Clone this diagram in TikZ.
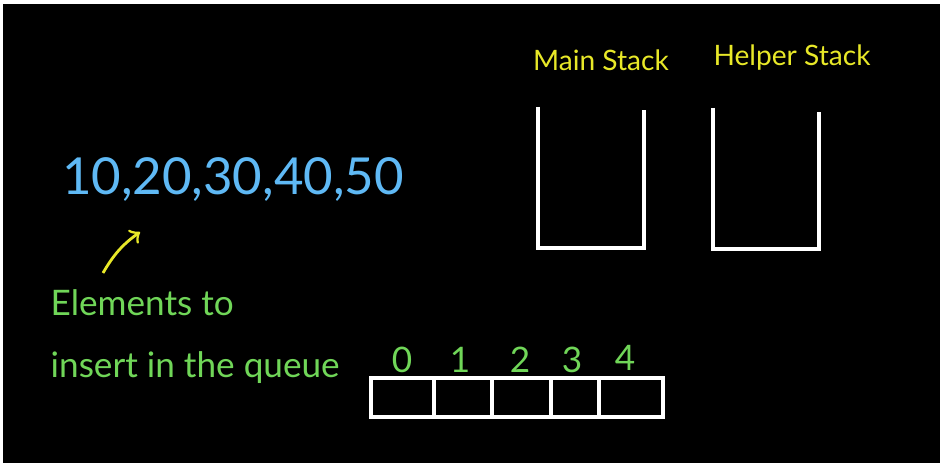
\documentclass[tikz,border=0pt]{standalone}
\usepackage{fontspec}
\setmainfont{Lato}
\usepackage{tikz}
\usetikzlibrary{arrows,calc,positioning}
\definecolor{qu_blue}{RGB}{95, 185, 245}
\definecolor{qu_green}{RGB}{112, 214, 88}
\definecolor{qu_yellow}{RGB}{232, 232, 40}
\tikzstyle{cell}=[rectangle,draw=white,line width=1pt,inner sep=0pt,
  minimum height=0.39cm]
\tikzstyle{idx}=[text=qu_green,font=\fontsize{10}{12}\selectfont,inner sep=0pt]
\tikzstyle{ttl}=[text=qu_yellow,font=\fontsize{8}{10}\selectfont,inner sep=0pt]
\tikzstyle{note}=[text=qu_green,font=\fontsize{10}{12}\selectfont,inner sep=0pt]
\tikzstyle{wall}=[draw=white,line width=1pt]

\begin{document}
\begin{tikzpicture}
        \useasboundingbox (0,0) rectangle (9.40,4.63);
        \fill[white] (0,0) rectangle (9.40,4.63);
        \fill[black] (0.03,0) rectangle (9.40,4.59);
        % stacks
        \node[style=ttl] (mst) at (6.01,4.03) {Main Stack};
        \node[style=ttl] (hst) at (7.92,4.05) {Helper Stack};
        \coordinate (m0) at (5.38,3.56);
        \coordinate (m1) at (5.38,2.15);
        \coordinate (m2) at (6.44,2.15);
        \coordinate (m3) at (6.44,3.53);
        \coordinate (h0) at (7.13,3.55);
        \coordinate (h1) at (7.13,2.14);
        \coordinate (h2) at (8.19,2.14);
        \coordinate (h3) at (8.19,3.51);
        \draw[style=wall] (m0) -- (m1) -- (m2) -- (m3);
        \draw[style=wall] (h0) -- (h1) -- (h2) -- (h3);
        % elements
        \node[text=qu_blue,font=\fontsize{14.5}{16}\selectfont,inner sep=0pt] (nums) at (2.33,2.83) {10,20,30,40,50};
        \coordinate (tail) at (1.03,1.90);
        \coordinate (head) at (1.40,2.31);
        \draw[qu_yellow,line width=0.8pt,->] (tail) to[bend left=12] (head);
        \node[style=note,anchor=west] (n1) at (0.50,1.60) {Elements to};
        \node[style=note,anchor=west] (n2) at (0.50,0.95) {insert in the queue};
        % queue array
        \node[style=cell,minimum width=0.63cm] (c0) at (4.025,0.655) {};
        \node[style=cell,minimum width=0.58cm] (c1) at (4.63,0.655) {};
        \node[style=cell,minimum width=0.59cm] (c2) at (5.215,0.655) {};
        \node[style=cell,minimum width=0.48cm] (c3) at (5.75,0.655) {};
        \node[style=cell,minimum width=0.64cm] (c4) at (6.31,0.655) {};
        \node[style=idx] (i0) at (4.02,1.03) {0};
        \node[style=idx] (i1) at (4.60,1.03) {1};
        \node[style=idx] (i2) at (5.20,1.03) {2};
        \node[style=idx] (i3) at (5.72,1.03) {3};
        \node[style=idx] (i4) at (6.25,1.05) {4};
\end{tikzpicture}
\end{document}
